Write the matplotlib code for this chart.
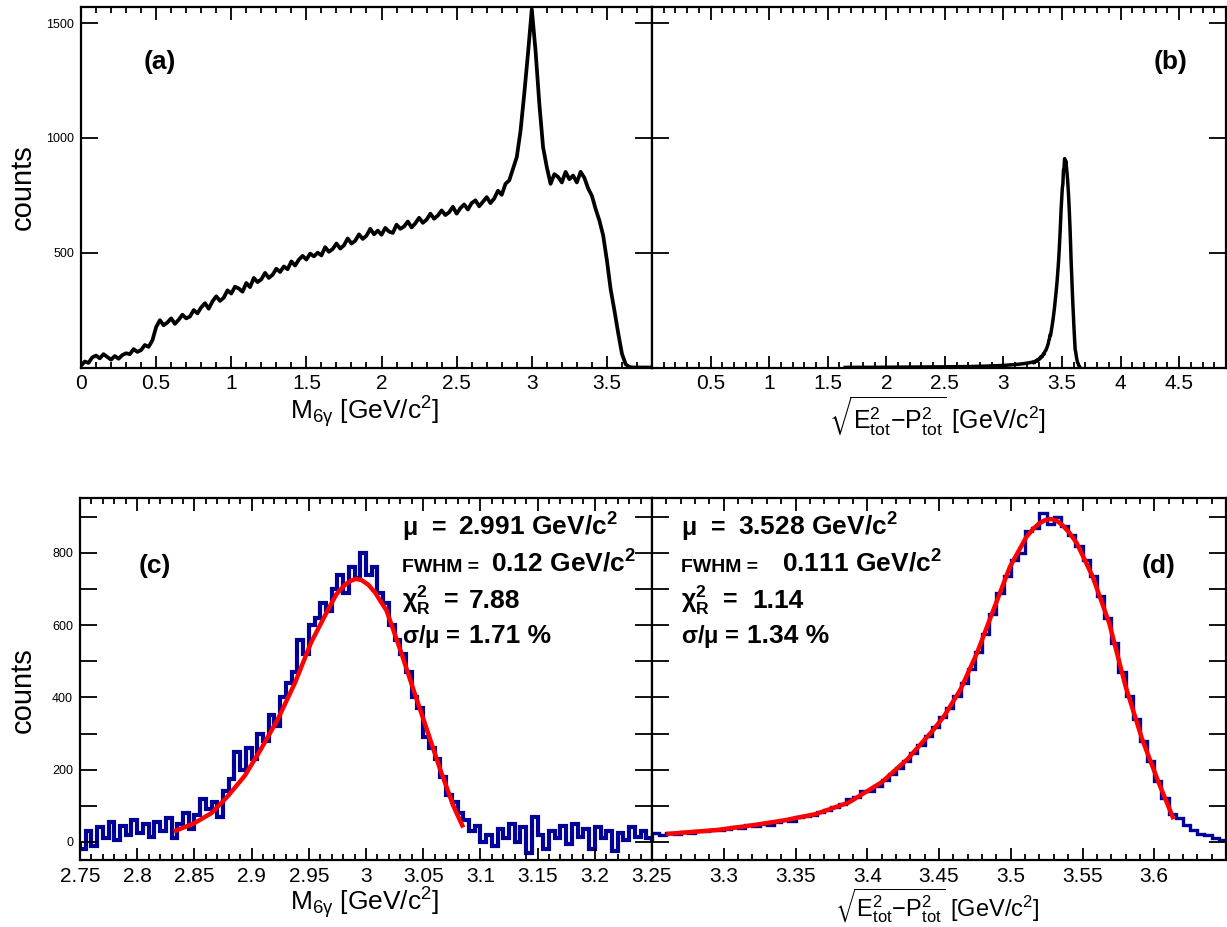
import matplotlib
matplotlib.use("Agg")
import matplotlib.pyplot as plt
import numpy as np
from matplotlib.ticker import MultipleLocator, FixedLocator, FuncFormatter

plt.rcParams['font.family'] = ['Liberation Sans', 'DejaVu Sans']
plt.rcParams['mathtext.default'] = 'regular'

# ---- (a) M_6gamma, full range, one value every 0.025 starting at 0
m6g_start, m6g_step = 0.0, 0.025
m6g_counts = [
    8, 26, 20, 44, 52, 40, 58, 46, 34, 50, 38, 54, 62, 58, 80, 68, 76, 98, 90, 118,
    176, 206, 184, 196, 214, 190, 208, 230, 214, 222, 250, 236, 262, 280, 256, 288, 310, 290, 304, 336,
    322, 352, 344, 330, 368, 350, 390, 372, 384, 412, 390, 404, 430, 416, 440, 428, 462, 444, 470, 486,
    470, 496, 484, 500, 488, 524, 504, 516, 540, 518, 532, 562, 540, 552, 580, 560, 574, 604, 580, 596,
    578, 608, 592, 586, 622, 604, 614, 636, 610, 628, 652, 630, 644, 670, 648, 662, 684, 664, 676, 700,
    670, 694, 710, 688, 716, 728, 702, 722, 742, 716, 736, 770, 752, 800, 815, 865, 916, 1030, 1193, 1370,
    1560, 1380, 1150, 960, 872, 800, 842, 830, 806, 852, 820, 836, 806, 852, 826, 780, 748, 690, 640, 575,
    466, 340, 248, 150, 60, 14, 2, 0, 0, 0, 0, 0, 0,
]

# ---- (b)/(d) sqrt(E^2-P^2): fine bins of 0.005 from 3.25
ep_start, ep_step = 3.25, 0.005
ep_counts = [
    24, 20, 25, 23, 28, 26, 31, 29, 34, 32, 37, 40, 38, 46, 44, 50, 48, 56, 60, 58,
    68, 72, 75, 82, 88, 96, 104, 118, 124, 142, 140, 156, 172, 188, 206, 225, 246, 268, 294, 318,
    345, 372, 405, 440, 478, 525, 575, 630, 690, 735, 780, 800, 860, 870, 910, 880, 900, 875, 850, 820,
    780, 735, 680, 620, 550, 470, 405, 340, 280, 225, 170, 122, 78, 66, 48, 34, 22, 18, 10, 6,
]
# low tail seen in (b), coarse
ep_tail_edges = [1.5, 1.8, 2.1, 2.4, 2.6, 2.8, 2.9, 3.0, 3.05, 3.1, 3.15, 3.2, 3.25]
ep_tail_counts = [0.5, 1, 2, 3, 4, 6, 8, 10, 12, 14, 17, 21]

# ---- (c) M_6gamma zoom, bins of 0.005 from 2.75
m6z_start, m6z_step = 2.75, 0.005
m6z_counts = [
    -20, 30, -10, 40, 10, 55, 5, 45, 20, 60, 25, 50, 15, 55, 30, 65, 10, 50, 80, 35,
    75, 120, 90, 110, 70, 140, 175, 250, 200, 260, 230, 300, 280, 350, 320, 400, 440, 470, 560, 520,
    600, 620, 660, 640, 700, 740, 690, 760, 730, 800, 740, 760, 690, 660, 600, 560, 520, 470, 400, 370,
    290, 260, 230, 180, 130, 110, 80, 60, 30, 45, 0, 20, -10, 35, 10, 50, 0, 40, -30, 70,
    20, -20, 30, 10, 45, -5, 50, 15, 35, -20, 40, 10, 30, -25, 25, 5, 40, 15, 30, 10,
]

# fitted curves
fit_c_x = [2.832, 2.850, 2.865, 2.879, 2.894, 2.908, 2.923, 2.938, 2.952, 2.967, 2.974,
           2.981, 2.986, 2.991, 2.996, 3.002, 3.008, 3.018, 3.0297, 3.0413, 3.053, 3.0647,
           3.0763, 3.085]
fit_c_y = [29, 52, 80, 126, 183, 256, 340, 441, 552, 644, 685,
           710, 722, 728, 725, 712, 690, 640, 534, 423, 313, 202,
           100, 40]
fit_d_x = [3.260, 3.295, 3.318, 3.341, 3.364, 3.387, 3.410, 3.428, 3.446, 3.4535, 3.465,
           3.4765, 3.488, 3.4995, 3.511, 3.516, 3.520, 3.524, 3.528, 3.532, 3.536, 3.541,
           3.546, 3.557, 3.5686, 3.580, 3.5916, 3.603, 3.6135]
fit_d_y = [22, 33, 45, 59, 77, 109, 165, 229, 310, 348, 422,
           523, 643, 762, 845, 868, 882, 891, 894, 889, 877, 855,
           827, 735, 606, 431, 284, 165, 63]

stats_c = [(r"$\mu$  =", "2.991 GeV/c$^{2}$"), ("FWHM =", "0.12 GeV/c$^{2}$"),
           (r"$\chi^{2}_{R}$  =", "7.88"), (r"$\sigma/\mu$ =", "1.71 %")]
stats_d = [(r"$\mu$  =", "3.528 GeV/c$^{2}$"), ("FWHM =", "0.111 GeV/c$^{2}$"),
           (r"$\chi^{2}_{R}$  =", "1.14"), (r"$\sigma/\mu$ =", "1.34 %")]

BLUE = "#000099"
W, H = 1227, 927


def box(x0, x1, ytop, ybot):
    return [x0 / W, 1 - ybot / H, (x1 - x0) / W, (ybot - ytop) / H]


def edges(start, step, n):
    return np.round(start + step * np.arange(n + 1), 4)


def frame(ax, xlen=9, ylen=12):
    ax.tick_params(which='both', direction='in', top=True, right=True, labelsize=15, pad=5)
    ax.tick_params(axis='x', which='major', length=xlen, width=1.3)
    ax.tick_params(axis='x', which='minor', length=xlen / 2, width=1.3)
    ax.tick_params(axis='y', which='both', length=ylen, width=1.3, labelsize=9, pad=5)
    for s in ax.spines.values():
        s.set_linewidth(1.6)


gfmt = FuncFormatter(lambda v, p: "%g" % round(v, 3))

fig = plt.figure(figsize=(12.27, 9.27), dpi=100)
ax_a = fig.add_axes(box(81, 652, 7, 367.5))
ax_b = fig.add_axes(box(652, 1226, 7, 367.5))
ax_c = fig.add_axes(box(80, 652, 498, 860))
ax_d = fig.add_axes(box(652, 1226, 498, 860))

m6g_label = r"M$_{6\gamma}$ [GeV/c$^{2}$]"
ep_label = r"$\sqrt{E^{2}_{tot}{-}P^{2}_{tot}}$ [GeV/c$^{2}$]"

# (a)
m6g_x = m6g_start + m6g_step * np.arange(len(m6g_counts))
ax_a.plot(m6g_x, m6g_counts, color='black', lw=2.7)
ax_a.set_xlim(0, 3.8)
ax_a.set_ylim(0, 1570)
ax_a.xaxis.set_major_locator(MultipleLocator(0.5))
ax_a.xaxis.set_minor_locator(MultipleLocator(0.1))
ax_a.xaxis.set_major_formatter(gfmt)
ax_a.yaxis.set_major_locator(FixedLocator([500, 1000, 1500]))
frame(ax_a)
ax_a.set_ylabel("counts", fontsize=21)
ax_a.yaxis.set_label_coords(-0.077, 0.5)
ax_a.set_xlabel(m6g_label, fontsize=19)
ax_a.xaxis.set_label_coords(0.497, -0.075)
ax_a.text(0.138, 0.847, "(a)", transform=ax_a.transAxes, fontsize=19, fontweight='bold',
          ha='center', va='center')

# (b)
ep_fine_edges = edges(ep_start, ep_step, len(ep_counts))
ep_x = np.concatenate([(np.array(ep_tail_edges[:-1]) + np.array(ep_tail_edges[1:])) / 2,
                       (ep_fine_edges[:-1] + ep_fine_edges[1:]) / 2])
ax_b.plot(ep_x, np.concatenate([ep_tail_counts, ep_counts]), color='black', lw=2.5)
ax_b.set_xlim(0, 4.9)
ax_b.set_ylim(0, 1570)
ax_b.xaxis.set_major_locator(FixedLocator([0.5, 1, 1.5, 2, 2.5, 3, 3.5, 4, 4.5]))
ax_b.xaxis.set_minor_locator(MultipleLocator(0.1))
ax_b.xaxis.set_major_formatter(gfmt)
ax_b.yaxis.set_major_locator(FixedLocator([500, 1000, 1500]))
frame(ax_b)
ax_b.tick_params(labelleft=False)
ax_b.set_xlabel(ep_label, fontsize=18)
ax_b.xaxis.set_label_coords(0.497, -0.075)
ax_b.text(0.904, 0.847, "(b)", transform=ax_b.transAxes, fontsize=19, fontweight='bold',
          ha='center', va='center')

# (c)
ax_c.stairs(m6z_counts, edges(m6z_start, m6z_step, len(m6z_counts)), color=BLUE, lw=3)
ax_c.plot(fit_c_x, fit_c_y, color='red', lw=3.2, solid_capstyle='butt')
ax_c.set_xlim(2.75, 3.25)
ax_c.set_ylim(-50, 952)
ax_c.xaxis.set_major_locator(MultipleLocator(0.05))
ax_c.xaxis.set_minor_locator(MultipleLocator(0.01))
ax_c.xaxis.set_major_formatter(gfmt)
ax_c.yaxis.set_major_locator(MultipleLocator(200))
ax_c.yaxis.set_minor_locator(MultipleLocator(100))
frame(ax_c)
ax_c.set_ylabel("counts", fontsize=21)
ax_c.yaxis.set_label_coords(-0.075, 0.47)
ax_c.set_xlabel(m6g_label, fontsize=19)
ax_c.xaxis.set_label_coords(0.497, -0.068)
ax_c.text(0.131, 0.812, "(c)", transform=ax_c.transAxes, fontsize=19, fontweight='bold',
          ha='center', va='center')

# (d)
ax_d.stairs(ep_counts, edges(ep_start, ep_step, len(ep_counts)), color=BLUE, lw=2.4)
ax_d.plot(fit_d_x, fit_d_y, color='red', lw=3.2, solid_capstyle='butt')
ax_d.set_xlim(3.25, 3.65)
ax_d.set_ylim(-50, 952)
ax_d.xaxis.set_major_locator(FixedLocator([3.25, 3.3, 3.35, 3.4, 3.45, 3.5, 3.55, 3.6]))
ax_d.xaxis.set_minor_locator(MultipleLocator(0.01))
ax_d.xaxis.set_major_formatter(FuncFormatter(lambda v, p: "" if v < 3.27 else "%g" % round(v, 3)))
ax_d.yaxis.set_major_locator(MultipleLocator(200))
ax_d.yaxis.set_minor_locator(MultipleLocator(100))
frame(ax_d)
ax_d.tick_params(labelleft=False)
ax_d.set_xlabel(ep_label, fontsize=17)
ax_d.xaxis.set_label_coords(0.497, -0.072)
ax_d.text(0.883, 0.812, "(d)", transform=ax_d.transAxes, fontsize=19, fontweight='bold',
          ha='center', va='center')

# fit results
rows_y = [0.898, 0.796, 0.696, 0.599]
label_sizes = [18, 14, 18, 17]
for ax, stats, lx, vx in [(ax_c, stats_c, 0.563, [0.661, 0.719, 0.680, 0.680]),
                          (ax_d, stats_d, 0.050, [0.150, 0.226, 0.174, 0.165])]:
    for (lab, val), y, x, fs in zip(stats, rows_y, vx, label_sizes):
        ax.text(lx, y, lab, transform=ax.transAxes, fontsize=fs, fontweight='bold', va='baseline')
        ax.text(x, y, val, transform=ax.transAxes, fontsize=19, fontweight='bold', va='baseline')

fig.savefig("out.png", dpi=100)
